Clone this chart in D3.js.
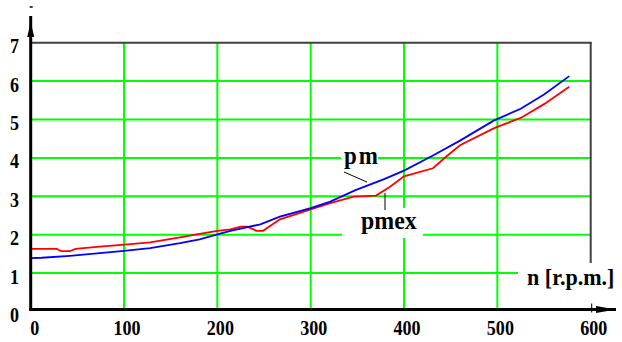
<!DOCTYPE html>
<html>
<head>
<meta charset="utf-8">
<script src="https://cdn.jsdelivr.net/npm/d3@7"></script>
<style>
  body { margin: 0; background: #fff; }
  svg text { font-family: "Liberation Serif", "DejaVu Serif", serif; font-weight: bold; fill: #000; }
</style>
</head>
<body>
<svg id="chart" width="622" height="342"></svg>
<script>
// axis ticks
const nTicks = [0, 100, 200, 300, 400, 500, 600];
const pTicks = [0, 1, 2, 3, 4, 5, 6, 7];

// p_m  (blue)
const pmN = [0, 12, 42, 74, 100, 128, 160, 181, 200, 214, 246, 267, 300, 321, 348, 378, 400, 430, 460, 496, 525, 550, 577];
const pmV = [1.39, 1.40, 1.45, 1.52, 1.58, 1.65, 1.78, 1.88, 2.01, 2.10, 2.27, 2.47, 2.69, 2.86, 3.16, 3.44, 3.67, 4.05, 4.45, 4.97, 5.28, 5.65, 6.13];

// p_mex (red)
const pmexN = [0, 28, 33, 42, 48, 74, 110, 128, 160, 181, 200, 214, 225, 232, 242, 249, 267, 300, 321, 346, 370, 385, 400, 431, 445, 460, 496, 525, 550, 577];
const pmexV = [1.63, 1.63, 1.57, 1.57, 1.63, 1.69, 1.76, 1.80, 1.93, 2.02, 2.10, 2.14, 2.21, 2.21, 2.10, 2.10, 2.40, 2.66, 2.82, 2.99, 3.02, 3.25, 3.52, 3.73, 4.03, 4.33, 4.77, 5.04, 5.40, 5.85];

const svg = d3.select("#chart");
const x = d3.scaleLinear().domain([0, 600]).range([30.7, 590.7]);
const y = d3.scaleLinear().domain([0, 7]).range([311.5, 42.7]);

const green = "#00ff00";

// grid
svg.selectAll(".vgrid").data(nTicks.slice(1, -1)).enter().append("line")
  .attr("x1", d => x(d)).attr("x2", d => x(d))
  .attr("y1", y(7)).attr("y2", y(0) - 2)
  .attr("stroke", green).attr("stroke-width", 2);
svg.selectAll(".hgrid").data(pTicks.slice(1, -1)).enter().append("line")
  .attr("x1", x(0)).attr("x2", x(600))
  .attr("y1", d => y(d)).attr("y2", d => y(d))
  .attr("stroke", green).attr("stroke-width", 2);

// top & right frame
svg.append("line").attr("x1", x(0)).attr("x2", x(600) + 1).attr("y1", y(7)).attr("y2", y(7))
  .attr("stroke", "#404040").attr("stroke-width", 2);
svg.append("line").attr("x1", x(600)).attr("x2", x(600)).attr("y1", y(7)).attr("y2", 263)
  .attr("stroke", "#404040").attr("stroke-width", 2);

// curves
const line = d3.line().x(d => x(d[0])).y(d => y(d[1]));
svg.append("path").datum(pmexN.map((n, i) => [n, pmexV[i]]))
  .attr("d", line).attr("fill", "none").attr("stroke", "#ff0000").attr("stroke-width", 1.8);
svg.append("path").datum(pmN.map((n, i) => [n, pmV[i]]))
  .attr("d", line).attr("fill", "none").attr("stroke", "#0000ff").attr("stroke-width", 1.8);

// label masks
svg.append("rect").attr("x", 341).attr("y", 146).attr("width", 37).attr("height", 22).attr("fill", "#fff");
svg.append("rect").attr("x", 342).attr("y", 208).attr("width", 81).attr("height", 30).attr("fill", "#fff");
svg.append("rect").attr("x", 518).attr("y", 265).attr("width", 104).attr("height", 26).attr("fill", "#fff");

// axes
const y0 = y(0) - 2;
svg.append("line").attr("x1", x(0) - 1.5).attr("x2", 616).attr("y1", y0).attr("y2", y0)
  .attr("stroke", "#000").attr("stroke-width", 3);
svg.append("line").attr("x1", x(0)).attr("x2", x(0)).attr("y1", y0 + 1.5).attr("y2", 16)
  .attr("stroke", "#000").attr("stroke-width", 3);
svg.append("path").attr("d", `M${x(0)},22 L${x(0) - 3.5},37 L${x(0) + 3.5},37 Z`).attr("fill", "#000");
svg.append("line").attr("x1", x(0) - 1).attr("x2", x(0) + 2).attr("y1", 7).attr("y2", 7)
  .attr("stroke", "#000").attr("stroke-width", 1.5);
svg.append("path").attr("d", `M616,${y0} L596,${y0 - 3.5} L596,${y0 + 3.5} Z`).attr("fill", "#000");
svg.append("line").attr("x1", x(600) + 1).attr("x2", x(600) + 1).attr("y1", y0 - 6).attr("y2", y0 + 3)
  .attr("stroke", "#000").attr("stroke-width", 1);

// tick labels (condensed bold serif)
svg.selectAll(".xl").data(nTicks).enter().append("text")
  .attr("transform", d => `translate(${x(d) + (d === 0 ? 4 : 3)},335) scale(0.86,1)`)
  .attr("text-anchor", "middle").attr("font-size", 21)
  .text(d => d);
svg.selectAll(".yl").data(pTicks).enter().append("text")
  .attr("transform", d => `translate(19,${y(d) + 10.5}) scale(0.86,1)`)
  .attr("text-anchor", "end").attr("font-size", 21)
  .text(d => d);

// curve labels
svg.append("text").attr("transform", "translate(344,164) scale(0.92,1)")
  .attr("font-size", 25).attr("letter-spacing", 2).text("pm");
svg.append("text").attr("transform", "translate(361,229) scale(0.92,1)")
  .attr("font-size", 26).text("pmex");
svg.append("line").attr("x1", 344).attr("y1", 172).attr("x2", 367).attr("y2", 182)
  .attr("stroke", "#000").attr("stroke-width", 1);
svg.append("line").attr("x1", 385).attr("y1", 193).attr("x2", 385).attr("y2", 210)
  .attr("stroke", "#000").attr("stroke-width", 1);

svg.append("text").attr("transform", "translate(527,285) scale(0.92,1)")
  .attr("font-size", 24).text("n [r.p.m.]");
</script>
</body>
</html>
